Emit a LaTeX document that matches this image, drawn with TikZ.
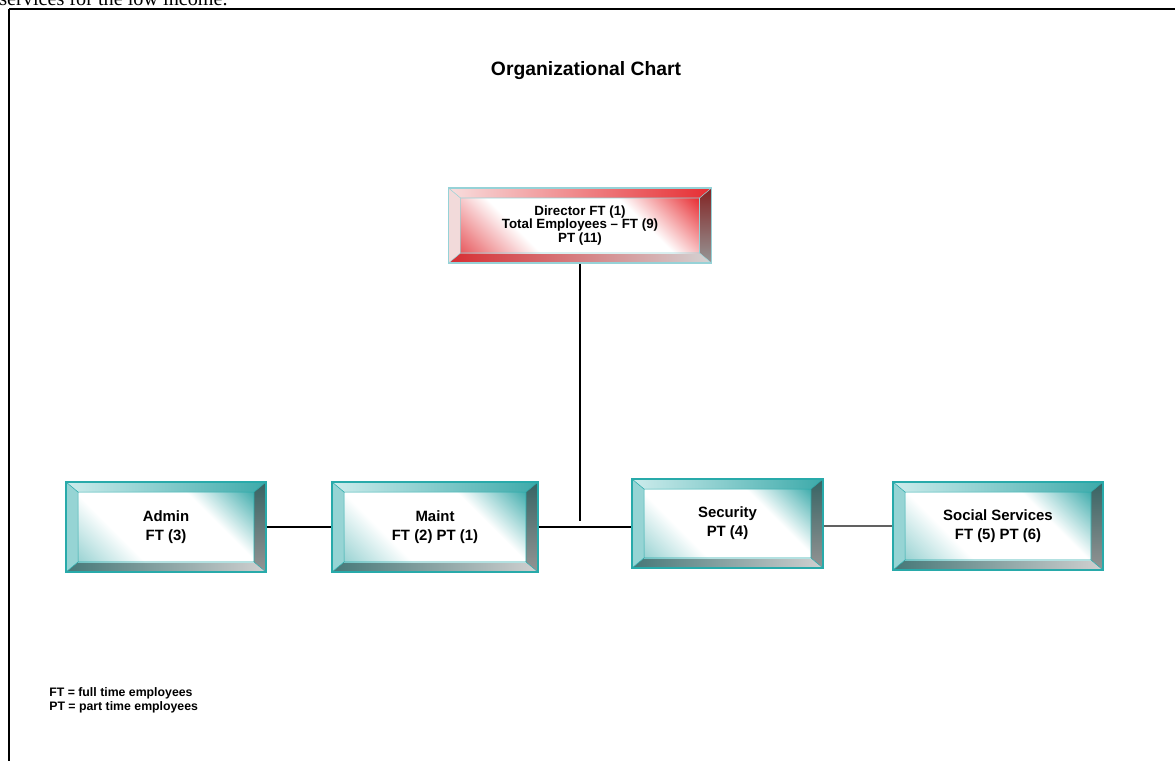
\documentclass[tikz,border=0pt]{standalone}
\usepackage{fontspec}
\setmainfont{Liberation Sans}
\newfontfamily\timesfont{Liberation Serif}
\usetikzlibrary{calc}

\definecolor{tealEdge}{RGB}{40,170,170}
\definecolor{tealTopA}{RGB}{205,236,236}
\definecolor{tealTopB}{RGB}{60,170,170}
\definecolor{tealSide}{RGB}{150,212,212}
\definecolor{tealRightA}{RGB}{55,100,100}
\definecolor{tealRightB}{RGB}{148,148,148}
\definecolor{tealBotA}{RGB}{70,120,120}
\definecolor{tealBotB}{RGB}{208,208,208}
\definecolor{tealFaceA}{RGB}{70,175,175}
\definecolor{tealFaceB}{RGB}{140,205,205}

\definecolor{redEdge}{RGB}{150,210,215}
\definecolor{redTopA}{RGB}{248,222,222}
\definecolor{redTopB}{RGB}{230,45,50}
\definecolor{redSide}{RGB}{242,218,218}
\definecolor{redRightA}{RGB}{130,35,35}
\definecolor{redRightB}{RGB}{150,150,150}
\definecolor{redBotA}{RGB}{215,45,50}
\definecolor{redBotB}{RGB}{212,212,212}
\definecolor{redFaceA}{RGB}{232,50,55}
\definecolor{redFaceB}{RGB}{228,70,75}

% front faces: coloured corners, white middle
\pgfdeclareverticalshading{tealface}{100bp}{color(0bp)=(tealFaceB); color(12bp)=(tealFaceB);
  color(34bp)=(white); color(66bp)=(white); color(85bp)=(tealFaceA); color(100bp)=(tealFaceA)}
\pgfdeclareverticalshading{redface}{100bp}{color(0bp)=(redFaceB); color(12bp)=(redFaceB);
  color(34bp)=(white); color(66bp)=(white); color(85bp)=(redFaceA); color(100bp)=(redFaceA)}

% raised (bevelled) faces painted inside a node
\newcommand{\bevelfaces}[1]{%
  \coordinate (bNW) at (path picture bounding box.north west);
  \coordinate (bSE) at (path picture bounding box.south east);
  \coordinate (iNW) at ($(bNW)+(0.24cm,-0.2cm)$);
  \coordinate (iSE) at ($(bSE)+(-0.24cm,0.2cm)$);
  \shade[left color=#1TopA,right color=#1TopB] (bNW) -- (bNW-|bSE) -- (iNW-|iSE) -- (iNW) -- cycle;
  \shade[top color=#1RightA,bottom color=#1RightB] (bNW-|bSE) -- (bSE) -- (iSE) -- (iNW-|iSE) -- cycle;
  \shade[left color=#1BotA,right color=#1BotB] (bNW|-bSE) -- (bSE) -- (iSE) -- (iNW|-iSE) -- cycle;
  \fill[#1Side] (bNW) -- (iNW) -- (iNW|-iSE) -- (bNW|-bSE) -- cycle;
  \shade[shading=#1face,shading angle=-45] (iNW) rectangle (iSE);
  \draw[#1Edge,line width=0.3pt] (iNW) rectangle (iSE) (bNW) -- (iNW) (bNW-|bSE) -- (iNW-|iSE)
    (bSE) -- (iSE) (bNW|-bSE) -- (iNW|-iSE);
}

\tikzset{
  unitbox/.style={draw=#1Edge,line width=0.7pt,inner sep=0pt,align=center,path picture={\bevelfaces{#1}}},
  tealbox/.style={unitbox=teal,font=\fontsize{8.5}{10.8}\selectfont\bfseries},
  redbox/.style={unitbox=red,font=\fontsize{7.6}{7.8}\selectfont\bfseries},
  link/.style={line width=0.7pt}
}

\begin{document}
\begin{tikzpicture}[x=0.02cm,y=-0.02cm]
\useasboundingbox (0,0) rectangle (1175,761);
\node[anchor=base west,inner sep=0pt,font=\timesfont\fontsize{11.5}{13}\selectfont] (intro) at (-1,5) {services for the low income.};
\draw[line width=1.1pt] (1175,9) -- (9,9);
\draw[line width=0.8pt] (9,9) -- (9,761);

\node[anchor=base,inner sep=0pt,font=\fontsize{11}{13}\selectfont\bfseries] (title) at (586,75) {Organizational Chart};

\node[redbox,minimum width=5.26cm,minimum height=1.5cm] (dir) at (580,225.5) {Director FT (1)\\Total Employees -- FT (9)\\PT (11)};

\node[tealbox,minimum width=4cm,minimum height=1.8cm] (admin) at (166,527) {Admin\\FT (3)};
\node[tealbox,minimum width=4.12cm,minimum height=1.8cm] (maint) at (435,527) {Maint\\FT (2) PT (1)};
\node[tealbox,minimum width=3.82cm,minimum height=1.78cm] (sec) at (727.5,523.5) {Security\\PT (4)};
\node[tealbox,minimum width=4.2cm,minimum height=1.76cm] (soc) at (998,526) {Social Services\\FT (5) PT (6)};

\coordinate (hub) at (580,521);
\draw[link] (dir.south) -- (hub);
\draw[link] (admin.east) -- (maint.west);
\draw[link] (maint.east) -- (maint.east -| sec.west);
\draw[link,black!62] (soc.west -| sec.east) -- (soc.west);

\node[anchor=base west,inner sep=0pt,align=left,font=\fontsize{7}{8.2}\selectfont\bfseries] (key) at (49,710.7) {FT = full time employees\\PT = part time employees};
\end{tikzpicture}
\end{document}
